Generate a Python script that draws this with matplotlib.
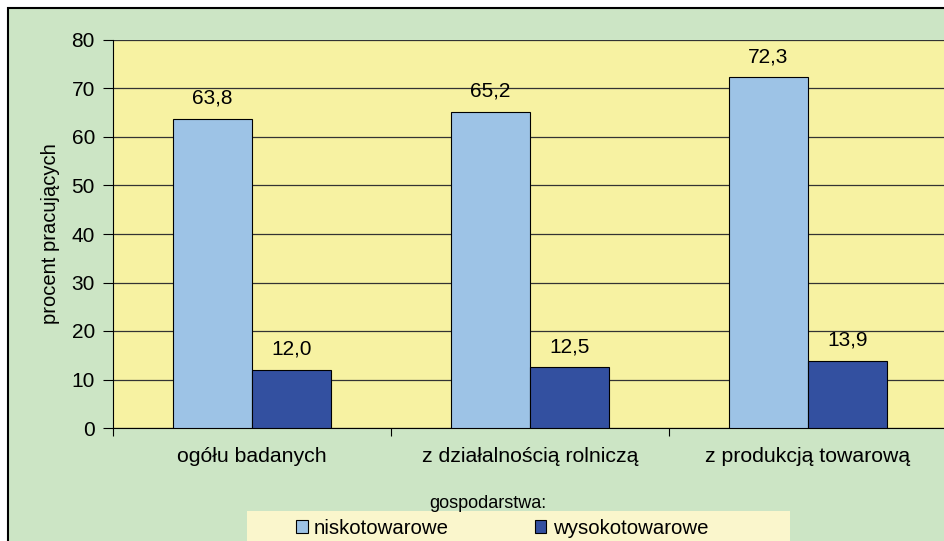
import matplotlib
matplotlib.use('Agg')
from matplotlib import pyplot as plt
from matplotlib.patches import Rectangle, Patch
import numpy as np

categories = ['ogółu badanych', 'z działalnością rolniczą', 'z produkcją towarową']
niskotowarowe = [63.8, 65.2, 72.3]
wysokotowarowe = [12.0, 12.5, 13.9]
series_names = ['niskotowarowe', 'wysokotowarowe']
yticks = [0, 10, 20, 30, 40, 50, 60, 70, 80]

plt.rcParams['font.family'] = ['Liberation Sans', 'DejaVu Sans']

W, H = 944, 541
fig = plt.figure(figsize=(W / 100, H / 100), dpi=100, facecolor='white')

# green chart background with black frame (runs off the right/bottom edge)
fig.patches.append(Rectangle((8 / W, -0.1), 1.2, 1.1 - 8 / H,
                             transform=fig.transFigure, facecolor='#cce5c5',
                             edgecolor='black', linewidth=1.5, zorder=-5))

ax = fig.add_axes([113 / W, 113 / H, 834 / W, 388 / H])
ax.set_facecolor('#f7f2a2')

x = np.arange(len(categories))
w = 0.284
b1 = ax.bar(x - w / 2, niskotowarowe, w, color='#9dc3e6', edgecolor='black', linewidth=0.8, zorder=3)
b2 = ax.bar(x + w / 2, wysokotowarowe, w, color='#3350a0', edgecolor='black', linewidth=0.8, zorder=3)

for bars in (b1, b2):
    for r in bars:
        v = r.get_height()
        ax.annotate(('%.1f' % v).replace('.', ','), (r.get_x() + r.get_width() / 2, v),
                    xytext=(0, 8), textcoords='offset points', ha='center', va='bottom',
                    fontsize=15)

ax.set_ylim(0, 80)
ax.set_xlim(-0.5, 2.5)
ax.set_yticks(yticks)
ax.set_yticklabels([str(t) for t in yticks], fontsize=15)
ax.yaxis.grid(True, color='#333333', linewidth=0.9, zorder=0)
ax.set_axisbelow(True)
ax.tick_params(axis='y', direction='out', length=7, width=0.8, pad=6)

# category ticks at group boundaries, labels in the middle
ax.set_xticks([-0.5, 0.5, 1.5, 2.5])
ax.set_xticklabels([])
ax.set_xticks(x, minor=True)
ax.set_xticklabels(categories, minor=True, fontsize=15.3)
ax.tick_params(axis='x', which='major', direction='out', length=6, width=0.8)
ax.tick_params(axis='x', which='minor', length=0, pad=14)

for s in ['top', 'right']:
    ax.spines[s].set_visible(False)
ax.spines['left'].set_color('black')
ax.spines['bottom'].set_color('black')

ax.set_ylabel('procent pracujących', fontsize=14.5, labelpad=8)

# legend
fig.text(488 / W, 1 - 504 / H, 'gospodarstwa:', ha='center', va='center', fontsize=13)
fig.patches.append(Rectangle((247 / W, -0.1), 543 / W, 0.1 + 30 / H,
                             transform=fig.transFigure, facecolor='#faf6cc',
                             edgecolor='none', zorder=-4))
handles = [Patch(facecolor='#9dc3e6', edgecolor='black', linewidth=0.8),
           Patch(facecolor='#3350a0', edgecolor='black', linewidth=0.8)]
fig.legend(handles, series_names, loc='center', bbox_to_anchor=(502 / W, 1 - 528 / H),
           ncol=2, frameon=False, fontsize=14.7, handlelength=0.58, handleheight=0.58,
           handletextpad=0.3, columnspacing=4.2, borderpad=0)

fig.savefig('out.png', dpi=100, facecolor='white')
